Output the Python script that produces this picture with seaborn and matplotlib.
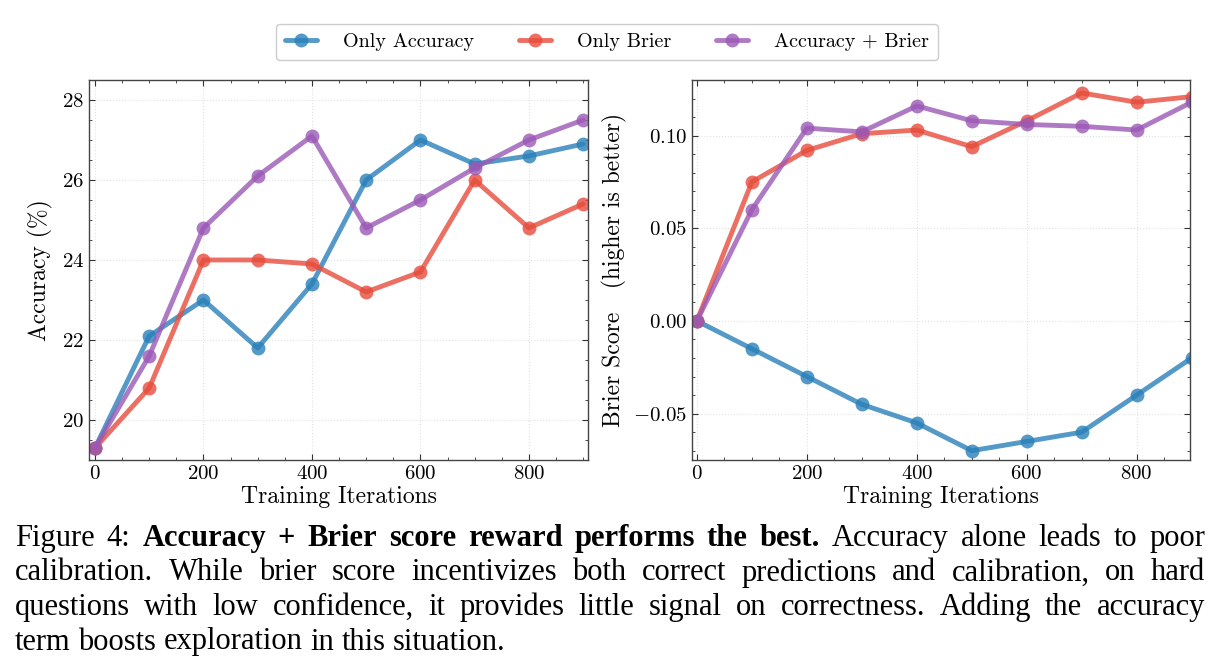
import matplotlib
matplotlib.use("Agg")
import matplotlib.pyplot as plt
from matplotlib.lines import Line2D
from matplotlib.ticker import AutoMinorLocator
import numpy as np
import pandas as pd
import seaborn as sns

# Datos
iterations = [0, 100, 200, 300, 400, 500, 600, 700, 800, 900]
methods = ["Only Accuracy", "Only Brier", "Accuracy + Brier"]

acc_only_accuracy = [19.3, 22.1, 23.0, 21.8, 23.4, 26.0, 27.0, 26.4, 26.6, 26.9]
acc_only_brier = [19.3, 20.8, 24.0, 24.0, 23.9, 23.2, 23.7, 26.0, 24.8, 25.4]
acc_both = [19.3, 21.6, 24.8, 26.1, 27.1, 24.8, 25.5, 26.3, 27.0, 27.5]

brier_only_accuracy = [0.0, -0.015, -0.030, -0.045, -0.055, -0.070, -0.065, -0.060, -0.040, -0.020]
brier_only_brier = [0.0, 0.075, 0.092, 0.101, 0.103, 0.094, 0.108, 0.123, 0.118, 0.121]
brier_both = [0.0, 0.060, 0.104, 0.102, 0.116, 0.108, 0.106, 0.105, 0.103, 0.118]

colors = ["#2980b9", "#e74c3c", "#9b59b6"]

caption_bold = "Accuracy + Brier score reward performs the best."
caption_lines = [
    "Figure 4: " + caption_bold + " Accuracy alone leads to poor",
    "calibration. While brier score incentivizes both correct predictions and calibration, on hard",
    "questions with low confidence, it provides little signal on correctness. Adding the accuracy",
    "term boosts exploration in this situation.",
]

# Tabla larga
rows = []
for m, a, b in zip(methods,
                   [acc_only_accuracy, acc_only_brier, acc_both],
                   [brier_only_accuracy, brier_only_brier, brier_both]):
    for it, av, bv in zip(iterations, a, b):
        rows.append({"Method": m, "Iteration": it, "Accuracy": av, "Brier": bv})
df = pd.DataFrame(rows)

# Estilo
sns.set_style("ticks")
plt.rcParams["font.family"] = "serif"
plt.rcParams["font.serif"] = ["cmr10"]
plt.rcParams["mathtext.fontset"] = "cm"
plt.rcParams["axes.formatter.use_mathtext"] = True
plt.rcParams["axes.unicode_minus"] = True
plt.rcParams["text.color"] = "black"
plt.rcParams["axes.labelcolor"] = "black"

fig = plt.figure(figsize=(12.21, 6.72), dpi=100)
ax1 = fig.add_axes([0.0729, 0.3155, 0.4087, 0.5655])
ax2 = fig.add_axes([0.5667, 0.3155, 0.4079, 0.5655])

palette = dict(zip(methods, colors))
for ax, col in [(ax1, "Accuracy"), (ax2, "Brier")]:
    sns.lineplot(data=df, x="Iteration", y=col, hue="Method", palette=palette,
                 marker="o", markersize=10, markeredgewidth=0, linewidth=3.5,
                 alpha=0.8, ax=ax, legend=False)
    ax.grid(True, color="#e2e2e2", linestyle=":", linewidth=0.8)
    ax.set_axisbelow(True)
    ax.tick_params(which="both", direction="in", top=True, right=True,
                   labelsize=15, colors="#333333", labelcolor="black")
    ax.tick_params(which="major", length=4, width=0.8)
    ax.tick_params(which="minor", length=2, width=0.6)
    ax.xaxis.set_minor_locator(AutoMinorLocator())
    ax.yaxis.set_minor_locator(AutoMinorLocator())
    for s in ax.spines.values():
        s.set_color("#444444")
        s.set_linewidth(1.0)
    ax.set_xlabel("Training Iterations", fontsize=17, labelpad=2)
    ax.set_xticks([0, 200, 400, 600, 800])

ax1.set_xlim(-11, 909)
ax1.set_ylim(19.0, 28.5)
ax1.set_yticks([20, 22, 24, 26, 28])
ax1.set_ylabel("Accuracy (%)", fontsize=17, labelpad=6)

ax2.set_xlim(-9, 897)
ax2.set_ylim(-0.075, 0.130)
ax2.set_yticks([-0.05, 0.0, 0.05, 0.10])
ax2.set_ylabel("Brier Score   (higher is better)", fontsize=17, labelpad=4)

handles = [Line2D([0], [0], color=c, marker="o", markersize=10, markeredgewidth=0,
                  linewidth=3.5, alpha=0.8) for c in colors]
fig.legend(handles, methods, loc="center", bbox_to_anchor=(0.497, 0.9375),
           ncol=3, fontsize=14.5, frameon=True, fancybox=True, edgecolor="#cccccc",
           framealpha=1, handlelength=1.6, handletextpad=1.3, columnspacing=2.2,
           borderpad=0.45)

# Pie de figura, justificado palabra por palabra
cap_size = 22
renderer = fig.canvas.get_renderer()
x_left, x_right = 15, 1205


def text_width(s, weight="normal"):
    t = fig.text(0, 0, s, family="Liberation Serif", fontsize=cap_size, fontweight=weight)
    w = t.get_window_extent(renderer).width
    t.remove()
    return w


space_w = text_width("a a") - text_width("aa")
bold_words = set(range(2, 2 + len(caption_bold.split())))
for i, line in enumerate(caption_lines):
    words = line.split()
    y = 1 - (553 + 34.5 * i) / 672
    texts = []
    for j, w in enumerate(words):
        weight = "bold" if (i == 0 and j in bold_words) else "normal"
        t = fig.text(0, y, w, va="bottom", ha="left", family="Liberation Serif",
                     fontsize=cap_size, fontweight=weight, color="black")
        texts.append(t)
    widths = [t.get_window_extent(renderer).width for t in texts]
    if i < len(caption_lines) - 1:
        gap = (x_right - x_left - sum(widths)) / (len(words) - 1)
    else:
        gap = space_w
    x = x_left
    for t, wd in zip(texts, widths):
        t.set_x(x / 1221)
        x += wd + gap

fig.savefig("out.png", dpi=100)
